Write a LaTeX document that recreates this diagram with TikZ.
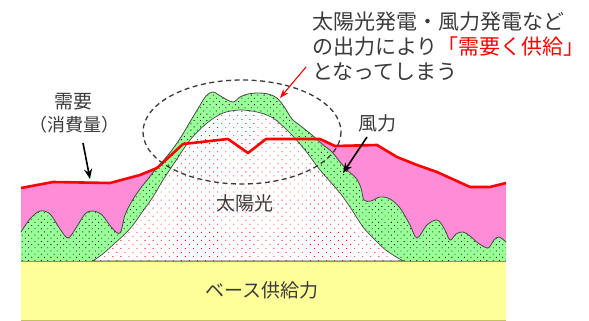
\documentclass[tikz,border=0pt]{standalone}
\usepackage{fontspec}
\newfontfamily\jp{Noto Sans CJK JP}
\usetikzlibrary{patterns.meta,arrows.meta}
\definecolor{pinkfill}{RGB}{255,140,215}
\definecolor{greenfill}{RGB}{153,255,153}
\definecolor{yellowfill}{RGB}{255,255,153}
\definecolor{txt}{RGB}{58,58,58}
\definecolor{edge}{RGB}{70,70,70}
\definecolor{ground}{RGB}{140,140,140}
\begin{document}
\begin{tikzpicture}[x=1pt,y=-1pt,
  lbl/.style={font=\jp\fontsize{19}{22}\selectfont, text=txt, inner sep=0pt},
  big/.style={font=\jp\fontsize{21}{26}\selectfont, text=txt, inner sep=0pt, anchor=west},
  callout/.style={-{Stealth[length=10pt,width=8pt]}, line width=1.6pt, black},
  redcallout/.style={-{Stealth[length=9pt,width=6.5pt]}, line width=1.1pt, red},
  demandline/.style={red, line width=2.6pt, line join=round}]
\useasboundingbox (0,0) rectangle (589,321);
% demand (pink) area
\fill[pinkfill] (21,261) -- (21,188) -- (53,182) -- (110,183) -- (140,175) -- (157,168) -- (183,144) -- (228,139) -- (248,153) -- (266,139) -- (320,139) -- (335,146) -- (377,145) -- (397,157) -- (417,165) -- (437,172) -- (470,187) -- (490,187) -- (506,183) -- (506,261) -- cycle;
% wind (green) area
\path[preaction={fill=greenfill}, pattern={Dots[distance=4.5pt, angle=45, radius=0.6pt]}, pattern color=black]
  (21,261) -- (21,232) -- plot[smooth,tension=0.55] coordinates {(21,232) (30,219) (40,211) (50,214) (60,229) (68,238) (76,228) (85,214) (93,211) (102,215) (112,228) (120,233) (125,215) (132,201) (140,189) (148,179) (155,170) (163,161) (172,150) (181,137) (190,122) (199,107) (206,96) (213,92) (222,97) (233,102) (240,97) (248,94) (258,93) (268,94) (277,98) (285,108) (292,119) (302,127) (312,135) (322,144) (332,152) (340,162) (348,171) (356,178) (361,188) (364,200) (371,201) (380,197) (390,199) (400,208) (410,225) (417,238) (427,225) (437,220) (444,228) (450,240) (456,234) (463,232) (470,236) (478,243) (488,248) (494,240) (499,237) (506,242)} -- (506,261) -- cycle;
\draw[edge, line width=0.8pt] plot[smooth,tension=0.55] coordinates {(21,232) (30,219) (40,211) (50,214) (60,229) (68,238) (76,228) (85,214) (93,211) (102,215) (112,228) (120,233) (125,215) (132,201) (140,189) (148,179) (155,170) (163,161) (172,150) (181,137) (190,122) (199,107) (206,96) (213,92) (222,97) (233,102) (240,97) (248,94) (258,93) (268,94) (277,98) (285,108) (292,119) (302,127) (312,135) (322,144) (332,152) (340,162) (348,171) (356,178) (361,188) (364,200) (371,201) (380,197) (390,199) (400,208) (410,225) (417,238) (427,225) (437,220) (444,228) (450,240) (456,234) (463,232) (470,236) (478,243) (488,248) (494,240) (499,237) (506,242)};
% solar area
\path[preaction={fill=white}, pattern={Dots[distance=5.7pt, angle=45, radius=0.6pt]}, pattern color=red, draw=edge, line width=0.7pt]
  plot[smooth,tension=0.5] coordinates {(93,261) (104,253) (115,243) (125,234) (133,225) (143,211) (153,197) (163,180) (175,162) (190,140) (207,123) (223,113) (240,110) (257,112) (273,118) (290,133) (305,150) (320,170) (340,193) (352,210) (363,227) (375,240) (387,251) (403,261)} -- cycle;
% base supply
\fill[yellowfill] (21,262) rectangle (506,320);
\draw[ground, line width=1.6pt] (21,261.5) -- (506,261.5);
\draw[olive!50, line width=0.8pt] (21,320.2) -- (506,320.2);
% demand line
\draw[demandline] (21,188) -- (53,182) -- (110,183) -- (140,175) -- (157,168) -- (183,144) -- (228,139) -- (248,153) -- (266,139) -- (320,139) -- (335,146) -- (377,145) -- (397,157) -- (417,165) -- (437,172) -- (470,187) -- (490,187) -- (506,183);
% dashed focus ellipse
\draw[txt, line width=1.3pt, dash pattern=on 5pt off 3.5pt] (242,132) ellipse [x radius=99, y radius=52];
% texts
\node[big] (t1) at (312,21.5) {太陽光発電・風力発電など};
\node[big] (t2) at (312,46.5) {の出力により\textcolor{red}{「需要く供給」}};
\node[big] (t3) at (312,72) {となってしまう};
\node[lbl] (demand) at (73,102) {需要};
\node[lbl, font=\jp\fontsize{18}{22}\selectfont] (cons) at (74,125) {（消費量）};
\node[lbl] (wind) at (377,123) {風力};
\node[lbl] (solar) at (245,203) {太陽光};
\node[lbl] (base) at (262,290) {ベース供給力};
% connectors
\coordinate (rs) at (306,67);
\coordinate (rt) at (280,98);
\draw[redcallout] (rs) -- (rt);
\coordinate (ds) at (83,143);
\coordinate (dt) at (90,179);
\draw[callout] (ds) -- (dt);
\coordinate (ws) at (367,137);
\coordinate (wt) at (343,173);
\draw[callout] (ws) -- (wt);
\end{tikzpicture}
\end{document}
